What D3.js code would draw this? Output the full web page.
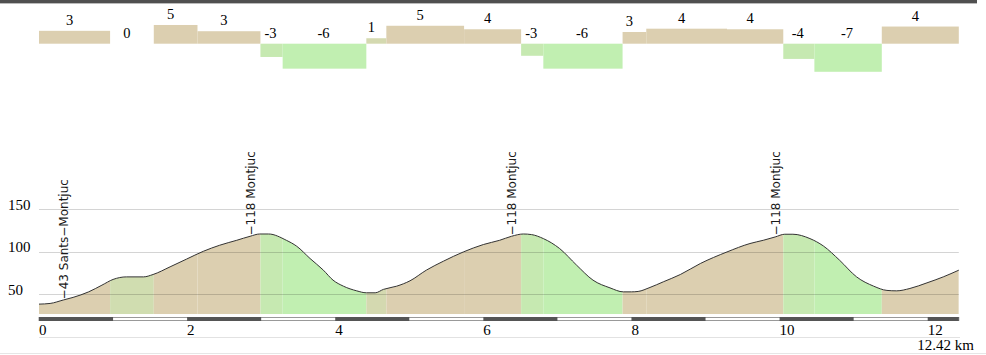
<!DOCTYPE html>
<html><head><meta charset="utf-8">
<script src="https://cdn.jsdelivr.net/npm/d3@7"></script>
<style>html,body{margin:0;padding:0;background:#fff;overflow:hidden}</style>
</head><body><svg id="c" width="986" height="355"></svg>
<script>
// ---- data ----
const profileKm = [0, 0.15, 0.33, 0.46, 0.67, 0.85, 1.0, 1.18, 1.41, 1.54, 1.77, 1.99, 2.22, 2.44, 2.67, 2.85, 2.98, 3.10, 3.34, 3.48, 3.66, 3.84, 3.97, 4.11, 4.29, 4.42, 4.54, 4.65, 4.83, 5.01, 5.23, 5.46, 5.73, 6.0, 6.22, 6.38, 6.54, 6.65, 6.81, 7.03, 7.26, 7.48, 7.71, 7.89, 8.0, 8.09, 8.25, 8.43, 8.66, 8.93, 9.29, 9.6, 9.78, 9.94, 10.07, 10.18, 10.41, 10.59, 10.81, 11.04, 11.27, 11.45, 11.58, 11.76, 11.99, 12.21, 12.42];
const profileElev = [38.6, 39.4, 43.5, 46.5, 53, 60.9, 67.6, 70.6, 70.6, 73.4, 82.4, 91.4, 100.7, 107.8, 113.6, 118.3, 121, 121, 113.6, 106.6, 92.2, 78.5, 66.8, 59.7, 54.2, 51.9, 51.9, 55.9, 59.7, 66, 78.5, 89, 99.9, 108.6, 113.6, 118.3, 121, 120.3, 115.6, 103.9, 84.3, 66.8, 57.7, 53, 53, 53.5, 58.2, 64.8, 73.4, 86.3, 99.9, 109.8, 113.6, 117.5, 120.7, 120.7, 115.6, 107, 90.2, 70.6, 59.7, 54.7, 54.2, 57, 63.6, 70.6, 78.5];
const segStart = [0, 0.96, 1.55, 2.14, 2.99, 3.29, 4.42, 4.69, 5.74, 6.51, 6.81, 7.88, 8.2, 9.29, 10.05, 10.47, 11.38];
const segEnd   = [0.96, 1.55, 2.14, 2.99, 3.29, 4.42, 4.69, 5.74, 6.51, 6.81, 7.88, 8.2, 9.29, 10.05, 10.47, 11.38, 12.42];
const segGrade = [3.3, 0, 4.8, 3.2, -3.4, -6.4, 1.4, 4.6, 3.7, -3.1, -6.4, 3.0, 3.85, 3.7, -3.9, -7.2, 4.4];
const pointKm = [0.33, 2.85, 6.38, 9.94];
const pointElev = [43, 118, 118, 118];
const pointName = ["Sants−Montjuc", "Montjuc", "Montjuc", "Montjuc"];
const yTicks = [50, 100, 150];
const xTicks = [0, 2, 4, 6, 8, 10, 12];
const totalKm = 12.42;
const totalLabel = "12.42 km";

// ---- scales ----
const svg = d3.select("#c");
const x = d3.scaleLinear().domain([0, totalKm]).range([39, 958.8]);
const y = d3.scaleLinear().domain([27, 150]).range([314, 209.3]);
const gy = d3.scaleLinear().domain([-8, 8]).range([43.7 + 31.2, 43.7 - 31.2]);
const TAN = "#dccfb0", GREEN = "#c1efb1";
function segColor(v) {
  if (v >= 2) return TAN;
  if (v <= -5) return GREEN;
  if (v >= 0) return d3.interpolateRgb(TAN, GREEN)(0.45 - v * 0.1);
  return d3.interpolateRgb(TAN, GREEN)(0.82);
}
const segs = segStart.map((s, i) => ({s, e: segEnd[i], g: segGrade[i]}));

// top frame line
svg.append("rect").attr("x", 0).attr("y", 0).attr("width", 977).attr("height", 3).attr("fill", "#505050");
svg.append("line").attr("x1", 0).attr("x2", 977).attr("y1", 3.5).attr("y2", 3.5).attr("stroke", "#bbb");

// ---- gradient bars ----
svg.append("g").selectAll("rect").data(segs).join("rect")
  .attr("x", d => x(d.s)).attr("width", d => x(d.e) - x(d.s))
  .attr("y", d => Math.min(gy(d.g), gy(0)))
  .attr("height", d => Math.abs(gy(d.g) - gy(0)))
  .attr("fill", d => segColor(d.g));
svg.append("g").selectAll("text").data(segs).join("text")
  .attr("x", d => (x(d.s) + x(d.e)) / 2 + (d.g < 0 ? -1 : -5))
  .attr("y", d => Math.min(gy(d.g), gy(0)) - 6)
  .attr("text-anchor", "middle")
  .attr("font-family", "Liberation Serif, serif").attr("font-size", 14.5).attr("fill", "#000")
  .text(d => Math.round(d.g));

// ---- profile ----
const pts = profileKm.map((k, i) => [k, profileElev[i]]);
const area = d3.area().x(d => x(d[0])).y0(y(27)).y1(d => y(d[1])).curve(d3.curveMonotoneX);
const line = d3.line().x(d => x(d[0])).y(d => y(d[1])).curve(d3.curveMonotoneX);
svg.append("clipPath").attr("id", "clip").append("path").attr("d", area(pts));
svg.append("g").attr("clip-path", "url(#clip)").selectAll("rect").data(segs).join("rect")
  .attr("x", d => x(d.s)).attr("width", d => x(d.e) - x(d.s))
  .attr("y", 150).attr("height", 170)
  .attr("fill", d => segColor(d.g));

// grid
svg.append("g").selectAll("line").data(yTicks).join("line")
  .attr("x1", x(0)).attr("x2", x(totalKm))
  .attr("y1", d => Math.round(y(d)) + 0.5).attr("y2", d => Math.round(y(d)) + 0.5)
  .attr("stroke", "rgba(0,0,0,0.17)");
svg.append("g").selectAll("text").data(yTicks).join("text")
  .attr("x", 8).attr("y", d => y(d) + 0.5)
  .attr("font-family", "Liberation Serif, serif").attr("font-size", 15).attr("fill", "#000")
  .text(d => d);

svg.append("path").attr("d", line(pts)).attr("fill", "none").attr("stroke", "#333").attr("stroke-width", 1);

// point labels
svg.append("g").selectAll("text").data(pointKm).join("text")
  .attr("transform", (d, i) => `translate(${x(d) + 5},${y(pointElev[i]) - 1}) rotate(-90)`)
  .attr("font-family", "DejaVu Sans, sans-serif").attr("font-size", 12).attr("fill", "#1a1a1a")
  .text((d, i) => "−" + pointElev[i] + " " + pointName[i]);

// scale bar
const sb = svg.append("g");
sb.append("rect").attr("x", x(0)).attr("y", 317.5).attr("width", x(totalKm) - x(0)).attr("height", 3)
  .attr("fill", "#fff").attr("stroke", "#999").attr("stroke-width", 1);
sb.selectAll("rect.d").data(d3.range(0, Math.ceil(totalKm), 2)).join("rect").attr("class", "d")
  .attr("x", d => x(d)).attr("width", d => x(Math.min(d + 1, totalKm)) - x(d))
  .attr("y", 317).attr("height", 4).attr("fill", "#555");

// x axis labels
svg.append("g").selectAll("text").data(xTicks).join("text")
  .attr("x", d => x(d)).attr("y", 335)
  .attr("font-family", "Liberation Serif, serif").attr("font-size", 15).attr("fill", "#000")
  .text(d => d);
svg.append("line").attr("x1", x(0)).attr("x2", 960).attr("y1", 337.5).attr("y2", 337.5).attr("stroke", "#e2e2e2");
svg.append("text").attr("x", 974).attr("y", 350).attr("text-anchor", "end")
  .attr("font-family", "Liberation Serif, serif").attr("font-size", 15).attr("fill", "#000")
  .text(totalLabel);
svg.append("line").attr("x1", 0).attr("x2", 986).attr("y1", 353.5).attr("y2", 353.5).attr("stroke", "#e6e6e6");
</script></body></html>
